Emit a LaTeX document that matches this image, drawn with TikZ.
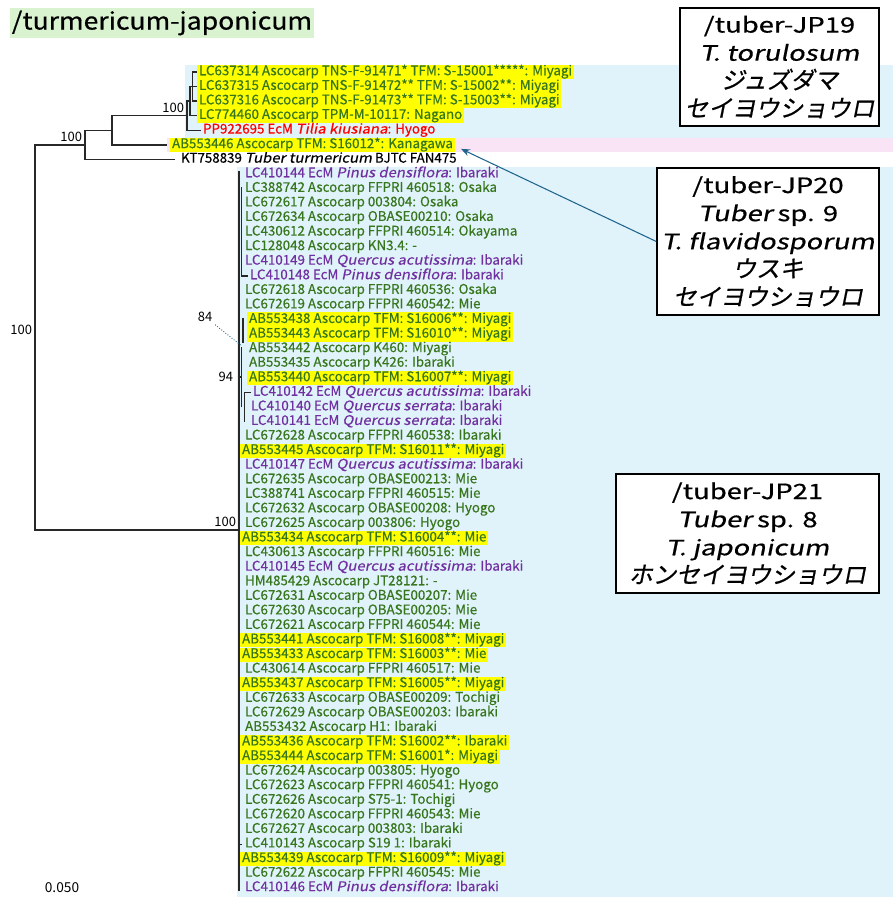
\documentclass[tikz,border=0pt]{standalone}
\usepackage{fontspec}
\setmainfont{Noto Sans CJK JP}[AutoFakeSlant=0.2, FakeBold=0.4, ItalicFeatures={FakeStretch=1.12}]
\newfontfamily\boxlatin{Noto Sans CJK JP}[FakeStretch=1.3, AutoFakeSlant=0.2, FakeBold=0.6]
\newfontfamily\boxkana{Noto Sans CJK JP}[AutoFakeSlant=0.2, FakeBold=0.6]
\newfontfamily\titlelatin{Noto Sans CJK JP}[FakeStretch=1.12, FakeBold=0.6]
\newfontfamily\plainlabel{Noto Sans CJK JP}
\usetikzlibrary{arrows.meta}
\definecolor{ascgreen}{RGB}{56, 118, 29}
\definecolor{ecmpurple}{RGB}{112, 48, 160}
\definecolor{hlyellow}{RGB}{255, 255, 0}
\definecolor{cladeblue}{RGB}{224, 243, 250}
\definecolor{cladepink}{RGB}{248, 228, 244}
\definecolor{titlegreen}{RGB}{217, 242, 208}
\definecolor{arrowteal}{RGB}{31, 100, 140}
\definecolor{branchgray}{RGB}{40, 40, 40}
\newcommand{\kana}[1]{{\fontsize{13.5}{16}\selectfont\boxkana\itshape #1}}

\begin{document}
\begin{tikzpicture}[x=0.02cm, y=-0.02cm,
    tip/.style={anchor=west, inner xsep=1pt, inner ysep=0pt, text height=6pt,
                text depth=2.3pt, font=\fontsize{7.6}{8}\selectfont},
    asc/.style={tip, text=ascgreen},
    ecm/.style={tip, text=ecmpurple},
    hl/.style={fill=hlyellow},
    bs/.style={font=\fontsize{7.4}{8}\selectfont\plainlabel, inner sep=1.5pt},
    branch/.style={branchgray, line width=0.7pt},
    namebox/.style={draw=black, line width=0.8pt, fill=white, align=center,
                    inner sep=0pt, font=\fontsize{12}{16}\selectfont\boxlatin}]
    \useasboundingbox (0,0) rectangle (893,903);

    %% clade bands
    \fill[cladeblue] (185,64.7) rectangle (893,137.6);
    \fill[cladepink] (167,137.6) rectangle (893,152.2);
    \fill[cladeblue] (237,166.7) rectangle (893,897);

    %% title
    \node[fill=titlegreen, minimum width=6.08cm, minimum height=0.6cm, inner sep=0pt,
          font=\fontsize{13.5}{14}\selectfont\titlelatin] (title) at (162,23)
      {/turmericum-japonicum};

    %% upper tips
    \node[asc, hl] (t0) at (197,72.0) {LC637314 Ascocarp TNS-F-91471* TFM: S-15001*****: Miyagi};
    \node[asc, hl] (t1) at (197,86.6) {LC637315 Ascocarp TNS-F-91472** TFM: S-15002**: Miyagi};
    \node[asc, hl] (t2) at (197,101.1) {LC637316 Ascocarp TNS-F-91473** TFM: S-15003**: Miyagi};
    \node[asc, hl] (t3) at (197,115.7) {LC774460 Ascocarp TPM-M-10117: Nagano};
    \node[tip, text=red] (t4) at (201,130.3) {PP922695 EcM \textit{Tilia kiusiana}: Hyogo};
    \node[asc, hl] (t5) at (170,144.9) {AB553446 Ascocarp TFM: S16012*: Kanagawa};
    \node[tip, text=black] (t6) at (179,159.4) {KT758839 \textit{Tuber turmericum} BJTC FAN475};

    %% lower tips
    \node[ecm] (t7) at (243,174.0) {LC410144 EcM \textit{Pinus densiflora}: Ibaraki};
    \node[asc] (t8) at (243,188.6) {LC388742 Ascocarp FFPRI 460518: Osaka};
    \node[asc] (t9) at (243,203.1) {LC672617 Ascocarp 003804: Osaka};
    \node[asc] (t10) at (243,217.7) {LC672634 Ascocarp OBASE00210: Osaka};
    \node[asc] (t11) at (243,232.3) {LC430612 Ascocarp FFPRI 460514: Okayama};
    \node[asc] (t12) at (243,246.8) {LC128048 Ascocarp KN3.4: -};
    \node[ecm] (t13) at (243,261.4) {LC410149 EcM \textit{Quercus acutissima}: Ibaraki};
    \node[ecm] (t14) at (248,276.0) {LC410148 EcM \textit{Pinus densiflora}: Ibaraki};
    \node[asc] (t15) at (243,290.6) {LC672618 Ascocarp FFPRI 460536: Osaka};
    \node[asc] (t16) at (243,305.1) {LC672619 Ascocarp FFPRI 460542: Mie};
    \node[asc, hl] (t17) at (247,319.7) {AB553438 Ascocarp TFM: S16006**: Miyagi};
    \node[asc, hl] (t18) at (247,334.3) {AB553443 Ascocarp TFM: S16010**: Miyagi};
    \node[asc] (t19) at (247,348.8) {AB553442 Ascocarp K460: Miyagi};
    \node[asc] (t20) at (247,363.4) {AB553435 Ascocarp K426: Ibaraki};
    \node[asc, hl] (t21) at (247,378.0) {AB553440 Ascocarp TFM: S16007**: Miyagi};
    \node[ecm] (t22) at (251,392.5) {LC410142 EcM \textit{Quercus acutissima}: Ibaraki};
    \node[ecm] (t23) at (249,407.1) {LC410140 EcM \textit{Quercus serrata}: Ibaraki};
    \node[ecm] (t24) at (249,421.7) {LC410141 EcM \textit{Quercus serrata}: Ibaraki};
    \node[asc] (t25) at (243,436.3) {LC672628 Ascocarp FFPRI 460538: Ibaraki};
    \node[asc, hl] (t26) at (240,450.8) {AB553445 Ascocarp TFM: S16011**: Miyagi};
    \node[ecm] (t27) at (243,465.4) {LC410147 EcM \textit{Quercus acutissima}: Ibaraki};
    \node[asc] (t28) at (243,480.0) {LC672635 Ascocarp OBASE00213: Mie};
    \node[asc] (t29) at (243,494.5) {LC388741 Ascocarp FFPRI 460515: Mie};
    \node[asc] (t30) at (243,509.1) {LC672632 Ascocarp OBASE00208: Hyogo};
    \node[asc] (t31) at (243,523.7) {LC672625 Ascocarp 003806: Hyogo};
    \node[asc, hl] (t32) at (240,538.2) {AB553434 Ascocarp TFM: S16004**: Mie};
    \node[asc] (t33) at (243,552.8) {LC430613 Ascocarp FFPRI 460516: Mie};
    \node[ecm] (t34) at (243,567.4) {LC410145 EcM \textit{Quercus acutissima}: Ibaraki};
    \node[asc] (t35) at (243,582.0) {HM485429 Ascocarp JT28121: -};
    \node[asc] (t36) at (243,596.5) {LC672631 Ascocarp OBASE00207: Mie};
    \node[asc] (t37) at (243,611.1) {LC672630 Ascocarp OBASE00205: Mie};
    \node[asc] (t38) at (243,625.7) {LC672621 Ascocarp FFPRI 460544: Mie};
    \node[asc, hl] (t39) at (240,640.2) {AB553441 Ascocarp TFM: S16008**: Miyagi};
    \node[asc, hl] (t40) at (240,654.8) {AB553433 Ascocarp TFM: S16003**: Mie};
    \node[asc] (t41) at (243,669.4) {LC430614 Ascocarp FFPRI 460517: Mie};
    \node[asc, hl] (t42) at (240,683.9) {AB553437 Ascocarp TFM: S16005**: Miyagi};
    \node[asc] (t43) at (243,698.5) {LC672633 Ascocarp OBASE00209: Tochigi};
    \node[asc] (t44) at (243,713.1) {LC672629 Ascocarp OBASE00203: Ibaraki};
    \node[asc] (t45) at (243,727.7) {AB553432 Ascocarp H1: Ibaraki};
    \node[asc, hl] (t46) at (240,742.2) {AB553436 Ascocarp TFM: S16002**: Ibaraki};
    \node[asc, hl] (t47) at (240,756.8) {AB553444 Ascocarp TFM: S16001*: Miyagi};
    \node[asc] (t48) at (243,771.4) {LC672624 Ascocarp 003805: Hyogo};
    \node[asc] (t49) at (243,785.9) {LC672623 Ascocarp FFPRI 460541: Hyogo};
    \node[asc] (t50) at (243,800.5) {LC672626 Ascocarp S75-1: Tochigi};
    \node[asc] (t51) at (243,815.1) {LC672620 Ascocarp FFPRI 460543: Mie};
    \node[asc] (t52) at (243,829.6) {LC672627 Ascocarp 003803: Ibaraki};
    \node[asc] (t53) at (243,844.2) {LC410143 Ascocarp S19 1: Ibaraki};
    \node[asc, hl] (t54) at (240,858.8) {AB553439 Ascocarp TFM: S16009**: Miyagi};
    \node[asc] (t55) at (243,873.4) {LC672622 Ascocarp FFPRI 460545: Mie};
    \node[ecm] (t56) at (243,887.9) {LC410146 EcM \textit{Pinus densiflora}: Ibaraki};

    %% tree nodes
    \coordinate (root) at (35,337.5);
    \coordinate (nA) at (85,144.9);
    \coordinate (nB) at (112,130.3);
    \coordinate (nC) at (187,115.7);
    \coordinate (nD) at (190,101.1);
    \coordinate (nE) at (192.5,86.6);
    \coordinate (nL) at (239,530);
    \coordinate (lowtop) at (239,171);
    \coordinate (lowbot) at (239,891);

    %% branches
    \draw[branch] (root) |- (nA);
    \draw[branch] (root) |- (nL);
    \draw[branch] (nA) |- (nB);
    \draw[branch] (nA) |- ([xshift=-0.08cm]t6.west);
    \draw[branch] (nB) |- (nC);
    \draw[branch] (nB) |- ([xshift=-0.06cm]t5.west);
    \draw[branch] (nC) |- (nD);
    \draw[branch] (nC) |- (t4.west);
    \draw[branch] (nD) |- (nE);
    \draw[branch] (nD) |- (t3.west);
    \draw[branch] (nE) |- (t0.west);
    \draw[branch] (nE) |- (t1.west);
    \draw[branch] (nE) |- (t2.west);
    \draw[branch] (lowtop) -- (lowbot);

    %% small subclades in the japonicum group
    \draw[branchgray, line width=1.1pt] (241.5,187) -- (241.5,270);
    \draw[branch] (241.5,262) |- (t14.west);
    \draw[branch] (243,318) -- (243,343);
    \coordinate (n94) at (241.7,377);
    \draw[branch] (241.7,347) -- (241.7,407);
    \draw[branch] (237.5,377) -- (n94);
    \draw[branch] (t22.west) -- (244.5,392.5) -- (244.5,421.7);
    \draw[branch] (239,844.2) -- (242,844.2);

    %% support values
    \node[bs, anchor=south east] (bsroot) at (root) {100};
    \node[bs, anchor=south east] (bsA) at (nA) {100};
    \node[bs, anchor=south east] (bsC) at (nC) {100};
    \node[bs, anchor=south east] (bsL) at (nL) {100};
    \node[bs, anchor=east] (bs94) at (236,377) {94};
    \node[bs] (bs84) at (205,317) {84};
    \coordinate (n84) at (240.5,345);
    \draw[arrowteal, line width=0.5pt, densely dotted] (bs84.south east) -- (n84);

    %% scale
    \node[bs, font=\fontsize{7.8}{8}\selectfont\plainlabel] (scale) at (62,888) {0.050};

    %% species boxes
    \node[namebox, minimum width=3.98cm, minimum height=2.36cm] (jp19) at (779.5,67)
      {/tuber-JP19\\ \textit{T. torulosum}\\ \kana{ジュズダマ}\\ \kana{セイヨウショウロ}};
    \node[namebox, minimum width=4.44cm, minimum height=2.94cm] (jp20) at (768,241.5)
      {/tuber-JP20\\ \textit{Tuber}\hspace{0.25em}sp. 9\\ \textit{T. flavidosporum}\\ \kana{ウスキ}\\ \kana{セイヨウショウロ}};
    \node[namebox, minimum width=5.26cm, minimum height=2.38cm] (jp21) at (747.5,533.5)
      {/tuber-JP21\\ \textit{Tuber}\hspace{0.25em}sp. 8\\ \textit{T. japonicum}\\ \kana{ホンセイヨウショウロ}};

    %% pointer to the JP20 sequence
    \draw[arrowteal, line width=0.6pt, -{Stealth[length=5pt, width=4pt]}]
      (jp20.west) -- ([shift={(6,4)}]t5.east);
\end{tikzpicture}
\end{document}
